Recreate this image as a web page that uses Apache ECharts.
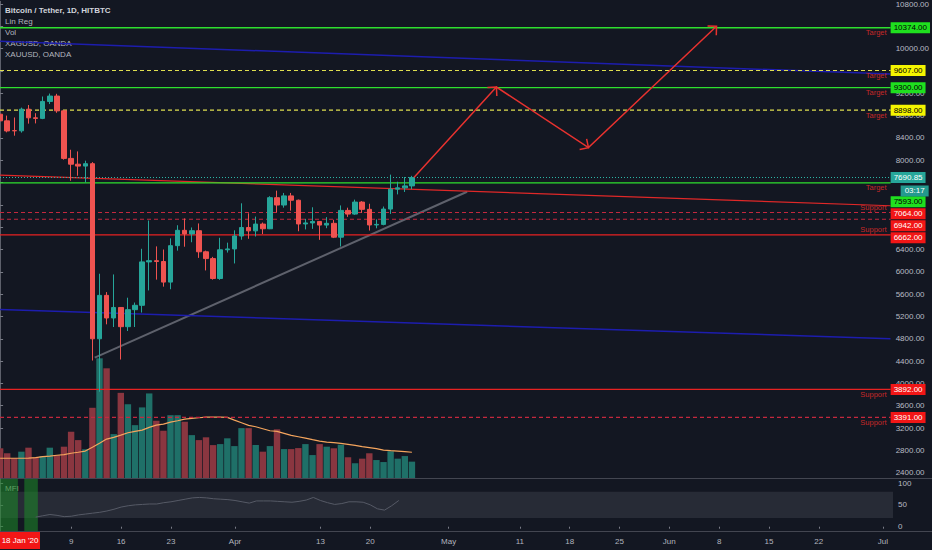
<!DOCTYPE html>
<html><head><meta charset="utf-8">
<script src="https://cdn.jsdelivr.net/npm/echarts@6/dist/echarts.min.js"></script>
<style>html,body{margin:0;padding:0;background:#131722;}#c{width:932px;height:550px;}</style>
</head><body><div id="c"></div>
<script>
// ---- data (day index 0 = 28 Feb 2020) ----
const dates = ['Feb 28','Feb 29','Mar 1','Mar 2','Mar 3','Mar 4','Mar 5','Mar 6','Mar 7','Mar 8','Mar 9','Mar 10','Mar 11','Mar 12','Mar 13','Mar 14','Mar 15','Mar 16','Mar 17','Mar 18','Mar 19','Mar 20','Mar 21','Mar 22','Mar 23','Mar 24','Mar 25','Mar 26','Mar 27','Mar 28','Mar 29','Mar 30','Mar 31','Apr 1','Apr 2','Apr 3','Apr 4','Apr 5','Apr 6','Apr 7','Apr 8','Apr 9','Apr 10','Apr 11','Apr 12','Apr 13','Apr 14','Apr 15','Apr 16','Apr 17','Apr 18','Apr 19','Apr 20','Apr 21','Apr 22','Apr 23','Apr 24','Apr 25','Apr 26'];
const opens  = [8825,8706,8531,8527,8915,8760,8750,9054,9150,8885,8033,7929,7895,7938,4800,5578,5173,5361,5017,5322,5400,6178,6200,6185,5816,6469,6744,6680,6737,6359,6237,5880,6395,6410,6642,6794,6734,6856,6772,7329,7197,7361,7283,6858,6876,6903,6838,6869,6621,7101,7035,7250,7120,6840,6850,7125,7482,7505,7540];
const highs  = [8900,8800,8766,8943,8990,8843,9142,9195,9190,8885,8188,8158,7992,7966,5966,5637,5953,5361,5536,5450,6413,6919,6456,6400,6600,6835,6957,6795,6867,6380,6268,6610,6523,6744,7228,7049,6990,6884,7355,7455,7414,7414,7295,6950,7157,6903,6980,6933,7190,7150,7294,7267,7220,6940,7170,7742,7615,7700,7720];
const lows   = [8600,8500,8440,8495,8656,8660,8736,9007,8850,8010,7632,7722,7603,4410,3850,5059,5011,4428,4939,5011,5270,5667,5860,5734,5688,6380,6450,6530,6250,6025,5860,5857,6345,6150,6575,6592,6633,6677,6765,7067,7150,7097,6727,6760,6770,6573,6782,6605,6454,6985,7021,7055,6740,6780,6834,7038,7388,7431,7480];
const closes = [8706,8525,8527,8915,8760,8750,9054,9150,8885,8033,7929,7895,7938,4800,5578,5173,5361,5017,5322,5400,6178,6200,6185,5816,6469,6744,6680,6737,6359,6237,5880,6395,6410,6642,6794,6734,6856,6772,7329,7197,7361,7283,6858,6876,6903,6838,6869,6621,7101,7035,7250,7120,6840,6850,7125,7482,7505,7540,7690.85];
const volumes = [14.9,12.4,9.9,13.2,15.2,10.4,11,15.2,11.5,15.7,23.2,19,14.4,35.2,60,55,22,42.7,37,26.5,35.4,42.4,28.7,23.7,31.5,31.5,28.2,21.5,19,20.4,16.5,17,19.9,16,25,25,16.5,13.2,16,24.4,14.5,14.5,15,17,11.5,17,15.7,14.9,16.7,10.4,7.4,9.7,12.4,9,8,13.4,9.7,11,8.2];
const volumeMA = [9.9,9.9,9.9,9.9,10,10.2,10.7,11,11.4,11.7,12.4,12.9,13.5,15.4,17.4,19.5,20.4,21.5,22.7,23.4,24,25.4,26.5,27,28,28.7,29.5,29.9,30.2,30.5,30.5,30.5,30.4,29,27.7,26.4,25.7,24.7,23.7,23.4,22.4,21.4,20.7,20,19.2,18.5,18,17.7,17.4,16.9,16.4,15.7,15.2,14.7,14,13.7,13.5,13.2,12.9];
const mfiStart = 5;
const mfiValues = [22,25,28,26,23,24,27,29,31,33,36,40,45,48,50,51,52,52,55,57,60,63,66,67,66,64,63,62,60,57,54,59,59,59,58,57,56,58,61,67,60,55,51,53,57,57,56,50,41,38,48,60];
const priceTicks = [2400,2800,3200,3600,4000,4400,4800,5200,5600,6000,6400,6800,7200,7600,8000,8400,8800,9200,9600,10000,10400,10800];
const priceTickLabels = [2400,2800,3200,3600,4000,4400,4800,5200,5600,6000,6400,8000,8400,8800,9200,10000,10800];
const mfiTicks = [0,50,100];
const timeTickDays = [10,17,24,33,45,52,63,73,80,87,94,101,108,115,124];
const timeTickLabels = ['9','16','23','Apr','13','20','May','11','18','25','Jun','8','15','22','Jul'];
const levels = [10374,9607,9300,8898,7593,7064,6942,6662,3892,3391];
const levelTags = ['Target','Target','Target','Target','Target','Support','','Support','Support','Support'];
const lastPrice = 7690.85;
const countdown = '03:17';
const trendRed = [[0,7733],[125.4,7184]];
const xagLine = [[0,10133],[125.4,9544]];
const xauLine = [[0,5327],[125.4,4800]];
const supportTrend = [[13.33,4462],[65.77,7435]];
const forecastPath = [[58.28,7690],[69.9,9311],[82.86,8226],[100.9,10401]];
const mfiHighlights = [[-0.02,2.5],[3.4,5.3]];

// ---- styles ----
const FONT = "'Liberation Sans Narrow','Liberation Sans',Arial,sans-serif";
const X_MIN = -0.014, X_MAX = 125.42;
const UP = '#26a69a', DOWN = '#ef5350';
const NONE = 'rgba(0,0,0,0)';
// per level: line color, dash, box color, box text, tag above?, box offset, width
const levelStyle = [
  ['#2ee02e','solid','#1fe01f','#000',false,0,1.3],
  ['#e0e050',[4,3],'#f5f500','#000',false,0,1.1],
  ['#2ee02e','solid','#1fe01f','#000',false,0,1.3],
  ['#e0e050',[4,3],'#f5f500','#000',false,0,1.1],
  ['#2ee02e','solid','#1fe01f','#000',false,18.7,1.3],
  ['#c4283e',[4,3],'#f21616','#fff',true,1.3,1.1],
  ['#c4283e',[4,3],'#f21616','#fff',true,6.6,1.1],
  ['#e82222','solid','#f21616','#fff',true,2.9,1.3],
  ['#e82222','solid','#f21616','#fff',false,0,1.3],
  ['#c4283e',[4,3],'#f21616','#fff',false,0,1.1]
];

const candleData = opens.map((o,i)=>[i,o,closes[i],lows[i],highs[i]]);
const labelLines = [];
const levelSeries = [];
levels.forEach((v,k)=>{
  const s = levelStyle[k];
  levelSeries.push({type:'line', xAxisIndex:0, yAxisIndex:0, symbol:'none', silent:true, z:4,
    data:[[X_MIN, v],[X_MAX, v]], lineStyle:{color:s[0], type:s[1], width:s[6]}});
  labelLines.push({yAxis:v, lineStyle:{color:NONE, width:0},
    label:{show:true, position:'end', distance:0, formatter:v.toFixed(2), backgroundColor:s[2], color:s[3],
      padding:[2,3,1,3], fontSize:8, fontFamily:FONT, offset:[0,s[5]]}});
  if (levelTags[k]) {
    labelLines.push({yAxis:v, lineStyle:{color:NONE, width:0},
      label:{show:true, position: s[4]?'insideEndTop':'insideEndBottom', distance:1, formatter:levelTags[k],
        color:'#c62828', fontSize:7.5, fontFamily:FONT, offset:[-3,0]}});
  }
});
levelSeries.push({type:'line', xAxisIndex:0, yAxisIndex:0, symbol:'none', silent:true, z:4,
  data:[[X_MIN, lastPrice],[X_MAX, lastPrice]], lineStyle:{color:'#2bb5a6', type:[1,2], width:1.1}});
labelLines.push({yAxis:lastPrice, lineStyle:{color:NONE, width:0},
  label:{show:true, position:'end', distance:0, formatter:lastPrice.toFixed(2), backgroundColor:'#26a69a', color:'#fff',
    padding:[2,3,1,3], fontSize:8, fontFamily:FONT}});
labelLines.push({yAxis:lastPrice, lineStyle:{color:NONE, width:0},
  label:{show:true, position:'end', distance:0, formatter:countdown, backgroundColor:'#23998e', color:'#fff',
    padding:[2,4,1,4], fontSize:8, fontFamily:FONT, offset:[10,13.5]}});

function pairLine(data, color, width){
  return {type:'line', xAxisIndex:0, yAxisIndex:0, data:data, symbol:'none', silent:true,
    lineStyle:{color:color, width:width}, z:4};
}

const chart = echarts.init(document.getElementById('c'), null, {renderer:'svg'});
chart.setOption({
  animation:false,
  backgroundColor:'#131722',
  grid:[{left:0, top:0, width:893, height:478}, {left:0, top:479, width:893, height:52}],
  xAxis:[
    {type:'value', gridIndex:0, min:X_MIN, max:X_MAX, show:false, splitLine:{show:false}},
    {type:'value', gridIndex:1, min:X_MIN, max:X_MAX, splitLine:{show:false},
      axisLine:{show:false},
      axisTick:{show:true, customValues:timeTickDays, length:2, lineStyle:{color:'#787b86'}},
      axisLabel:{customValues:timeTickDays, margin:6, color:'#b2b5be', fontSize:8, fontFamily:FONT,
        formatter:function(v){const k=timeTickDays.indexOf(Math.round(v)); return k>=0?timeTickLabels[k]:'';}}}
  ],
  yAxis:[
    {type:'value', gridIndex:0, position:'right', min:2305, max:10848, splitLine:{show:false},
      axisLine:{show:true, lineStyle:{color:'#5d606b'}},
      axisTick:{show:true, customValues:priceTicks, length:3, lineStyle:{color:'#787b86'}},
      axisLabel:{customValues:priceTickLabels, margin:5, color:'#b8bbc4', fontSize:8, fontFamily:FONT,
        formatter:function(v){return v.toFixed(2);}}},
    {type:'value', gridIndex:0, min:0, max:239, show:false, splitLine:{show:false}},
    {type:'value', gridIndex:1, position:'right', min:-9.8, max:109.2, splitLine:{show:false},
      axisLine:{show:true, lineStyle:{color:'#5d606b'}},
      axisTick:{show:true, customValues:mfiTicks, length:3, lineStyle:{color:'#787b86'}},
      axisLabel:{customValues:mfiTicks, margin:5, color:'#b8bbc4', fontSize:8, fontFamily:FONT}}
  ],
  series:[
    {type:'bar', xAxisIndex:0, yAxisIndex:1, barWidth:6.4, silent:true, z:1,
      data:volumes.map((v,i)=>({value:[i,v], itemStyle:{color: closes[i]>=opens[i]?'#1f7068':'#8a3640'}}))},
    {type:'line', xAxisIndex:0, yAxisIndex:1, symbol:'none', silent:true, z:2,
      data:volumeMA.map((v,i)=>[i,v]), lineStyle:{color:'#f5a55d', width:1.2}},
    pairLine(xagLine,'#1d1dae',1.5),
    pairLine(xauLine,'#1d1dae',1.5),
    pairLine(trendRed,'#e02828',1.2),
    Object.assign(pairLine(supportTrend,'rgba(170,172,182,0.5)',2),{z:3})
  ].concat(levelSeries).concat([
    {type:'candlestick', xAxisIndex:0, yAxisIndex:0, data:candleData, encode:{x:0, y:[1,2,3,4]},
      barWidth:5, silent:true, z:5,
      itemStyle:{color:UP, color0:DOWN, borderColor:UP, borderColor0:DOWN, borderWidth:1},
      markLine:{symbol:'none', silent:true, animation:false, data:labelLines}},
    {type:'custom', xAxisIndex:0, yAxisIndex:0, silent:true, z:6,
      data:[[forecastPath[0][0], forecastPath[0][1]]], encode:{x:0, y:1},
      renderItem:function(params, api){
        const pts = forecastPath.map(p=>api.coord(p));
        const st = {stroke:'#e8322f', lineWidth:1.5, fill:'none'};
        const children = [{type:'polyline', shape:{points:pts}, style:st}];
        for (let k=1;k<pts.length;k++){
          const a=pts[k-1], b=pts[k];
          const ang=Math.atan2(b[1]-a[1], b[0]-a[0]);
          const L=9, w=Math.PI/4;
          children.push({type:'polyline', shape:{points:[
            [b[0]-L*Math.cos(ang-w), b[1]-L*Math.sin(ang-w)], b,
            [b[0]-L*Math.cos(ang+w), b[1]-L*Math.sin(ang+w)]]}, style:st});
        }
        return {type:'group', children:children};
      }},
    {type:'line', xAxisIndex:1, yAxisIndex:2, symbol:'none', silent:true, z:3,
      data:mfiValues.map((v,k)=>[k+mfiStart,v]), lineStyle:{color:'#565a66', width:1},
      markArea:{silent:true, data:[
        [{yAxis:20, itemStyle:{color:'rgba(120,123,134,0.2)'}},{yAxis:80}]
      ].concat(mfiHighlights.map(r=>[{xAxis:r[0], itemStyle:{color:'rgba(30,140,40,0.55)'}},{xAxis:r[1]}]))}}
  ]),
  graphic:[
    {type:'line', shape:{x1:0,y1:478.5,x2:932,y2:478.5}, style:{stroke:'#434651', lineWidth:1}, silent:true},
    {type:'line', shape:{x1:0,y1:531.5,x2:932,y2:531.5}, style:{stroke:'#434651', lineWidth:1}, silent:true},
    {type:'text', left:5, top:6, style:{text:'Bitcoin / Tether, 1D, HITBTC', fill:'#d1d4dc', fontSize:8, fontWeight:'bold', fontFamily:FONT}},
    {type:'text', left:5, top:17, style:{text:'Lin Reg', fill:'#b2b5be', fontSize:8, fontFamily:FONT}},
    {type:'text', left:5, top:28, style:{text:'Vol', fill:'#b2b5be', fontSize:8, fontFamily:FONT}},
    {type:'text', left:5, top:39, style:{text:'XAGUSD, OANDA', fill:'#b2b5be', fontSize:8, fontFamily:FONT}},
    {type:'text', left:5, top:50, style:{text:'XAUUSD, OANDA', fill:'#b2b5be', fontSize:8, fontFamily:FONT}},
    {type:'text', left:5, top:484, style:{text:'MFI', fill:'#a9b8a9', fontSize:8, fontFamily:FONT}},
    {type:'group', left:0, top:532, children:[
      {type:'rect', shape:{x:0,y:0,width:40,height:17}, style:{fill:'#f21616'}},
      {type:'text', x:20, y:8.5, style:{text:"18 Jan '20", fill:'#fff', fontSize:8, fontFamily:FONT, align:'center', verticalAlign:'middle'}}
    ]}
  ]
});
</script></body></html>
